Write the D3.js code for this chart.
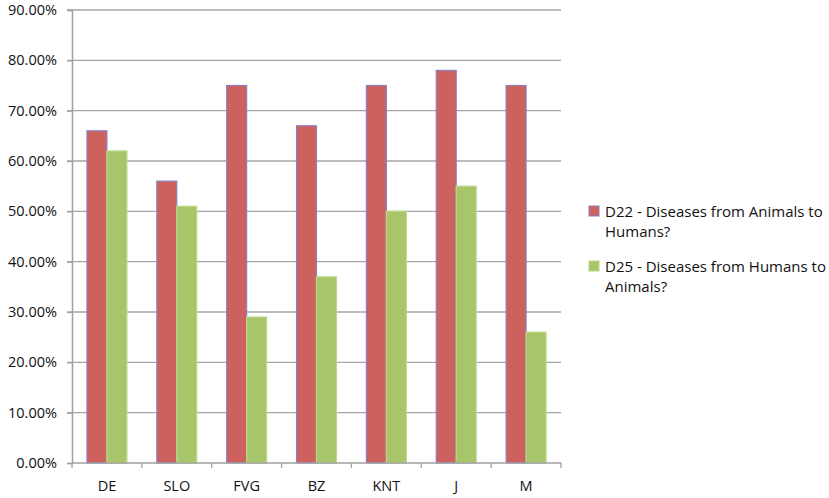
<!DOCTYPE html>
<html>
<head>
<meta charset="utf-8">
<script src="https://cdn.jsdelivr.net/npm/d3@7"></script>
<style>
  body { margin: 0; background: #fff; }
  text { font-family: "Open Sans", "Liberation Sans", sans-serif; fill: #111; }
</style>
</head>
<body>
<svg id="chart" width="829" height="498"></svg>
<script>
// regions surveyed
const regions = ['DE', 'SLO', 'FVG', 'BZ', 'KNT', 'J', 'M'];

// share of respondents (percent)
const animalsToHumans = [66, 56, 75, 67, 75, 78, 75];
const humansToAnimals = [62, 51, 29, 37, 50, 55, 26];

const seriesNames = [
    'D22 - Diseases from Animals to Humans?',
    'D25 - Diseases from Humans to Animals?'
];

const yTicks = [0, 10, 20, 30, 40, 50, 60, 70, 80, 90];

const svg = d3.select('#chart');

const plot = { left: 72, right: 561, top: 10, bottom: 463 };

let x = d3.scaleBand()
    .domain(regions)
    .range([plot.left, plot.right])
    .paddingInner(0)
    .paddingOuter(0);

let y = d3.scaleLinear()
    .domain([0, 90])
    .range([plot.bottom, plot.top]);

// bar width per series: two bars + 150% gap fill one band
let barW = x.bandwidth() / 3.5;

let series = [
    { name: seriesNames[0], values: animalsToHumans, fill: '#cd615d', stroke: '#8c80c4' },
    { name: seriesNames[1], values: humansToAnimals, fill: '#a8c56a', stroke: '#bcd88a' }
];

// gridlines
svg.append('g')
    .selectAll('line')
    .data(yTicks.filter(d => d > 0))
    .join('line')
    .attr('x1', plot.left - 5)
    .attr('x2', plot.right)
    .attr('y1', d => y(d))
    .attr('y2', d => y(d))
    .attr('stroke', '#a6a6a6')
    .attr('stroke-width', 1.3);

// bars
series.forEach((s, i) => {
    svg.append('g')
        .selectAll('rect')
        .data(regions)
        .join('rect')
        .attr('x', d => x(d) + barW * 0.75 + i * barW)
        .attr('y', (d, j) => y(s.values[j]))
        .attr('width', barW)
        .attr('height', (d, j) => y(0) - y(s.values[j]))
        .attr('fill', s.fill)
        .attr('stroke', s.stroke)
        .attr('stroke-width', 1.2);
});

// y axis
let yAxis = d3.axisLeft(y)
    .tickValues(yTicks)
    .tickSize(5)
    .tickPadding(10)
    .tickFormat(d => d.toFixed(2) + '%');

let ya = svg.append('g')
    .attr('transform', `translate(${plot.left},0)`)
    .call(yAxis);
ya.select('.domain').attr('stroke', '#a0a0a0').attr('stroke-width', 1.5);
ya.selectAll('.tick line').attr('stroke', '#a0a0a0').attr('stroke-width', 1.3);
ya.selectAll('.tick text')
    .style('font-size', '14.5px')
    .attr('fill', '#111');

// x axis: ticks at band edges
let xa = svg.append('g')
    .attr('transform', `translate(0,${plot.bottom})`);
xa.append('line')
    .attr('x1', plot.left).attr('x2', plot.right)
    .attr('stroke', '#a0a0a0').attr('stroke-width', 1.5);
xa.selectAll('line.tick')
    .data(regions.map(d => x(d)).concat([plot.right]))
    .join('line')
    .attr('class', 'tick')
    .attr('x1', d => d).attr('x2', d => d)
    .attr('y1', 0).attr('y2', 5)
    .attr('stroke', '#a0a0a0').attr('stroke-width', 1.3);
xa.selectAll('text')
    .data(regions)
    .join('text')
    .attr('x', d => x(d) + x.bandwidth() / 2)
    .attr('y', 23)
    .attr('dy', '0.35em')
    .attr('text-anchor', 'middle')
    .style('font-size', '14.5px')
    .text(d => d);

// legend
let legend = svg.append('g').attr('transform', 'translate(589,0)');
let legendY = [212, 267];
series.forEach((s, i) => {
    let words = s.name.split(' ');
    let first = words.slice(0, -1).join(' ');
    let last = words[words.length - 1];
    let g = legend.append('g').attr('transform', `translate(0,${legendY[i]})`);
    g.append('rect')
        .attr('x', 0).attr('y', -6)
        .attr('width', 10).attr('height', 10)
        .attr('fill', s.fill)
        .attr('stroke', s.stroke);
    g.append('text')
        .attr('x', 16).attr('dy', '0.35em')
        .style('font-size', '15px')
        .text(first);
    g.append('text')
        .attr('x', 16).attr('y', 20).attr('dy', '0.35em')
        .style('font-size', '15px')
        .text(last);
});
</script>
</body>
</html>
